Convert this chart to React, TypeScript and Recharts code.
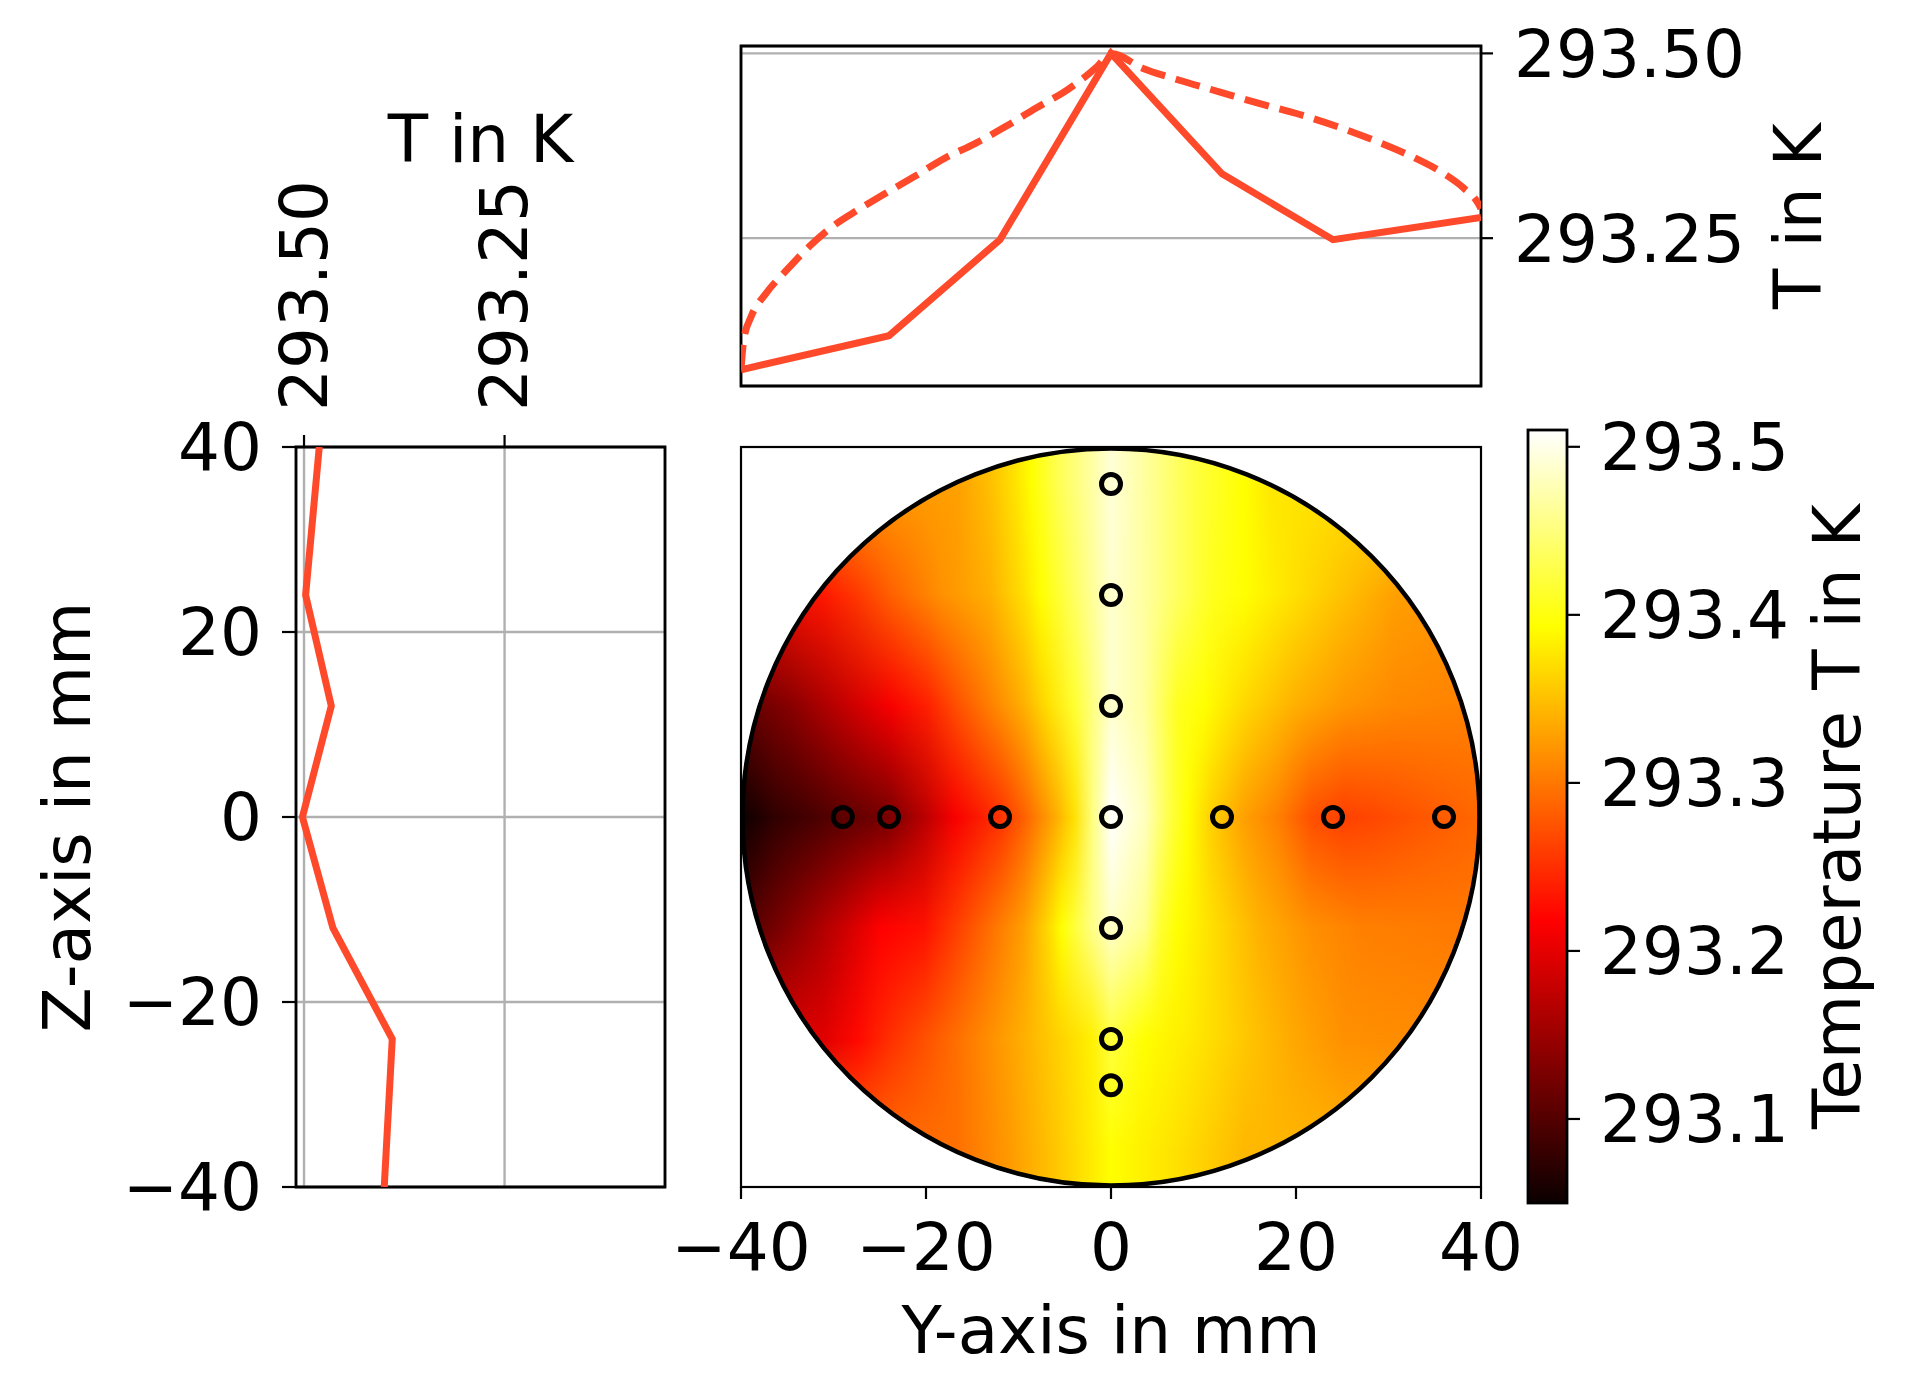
import React from "react";
import {
  ComposedChart,
  Line,
  Scatter,
  XAxis,
  YAxis,
  CartesianGrid,
  ReferenceArea,
  Label,
} from "recharts";

// ---- data ----

// shared temperature range (K) of the two profiles and the colour bar
const T_MIN = 293.05;
const T_MAX = 293.51;

// temperature profile along Y (Z = 0), measured points
const profileY = [-40, -24, -12, 0, 12, 24, 40];
const profileYT = [293.072, 293.118, 293.248, 293.5, 293.337, 293.248, 293.278];

// dashed fit along Y
const fitY = [
  -40, -39.7, -38.9, -37.25, -35.05, -32.6, -30.1, -27.4, -24.6, -21.3, -18, -14.7, -11.4, -8.1,
  -4.8, -1.5, 0, 3.4, 7.3, 11.7, 16.1, 20.5, 24.9, 28.7, 32.6, 35.9, 38.1, 39.7, 40,
];
const fitT = [
  293.072, 293.113, 293.144, 293.176, 293.207, 293.239, 293.266, 293.288, 293.309, 293.333,
  293.358, 293.378, 293.401, 293.426, 293.45, 293.482, 293.5, 293.48, 293.464, 293.448, 293.432,
  293.417, 293.399, 293.381, 293.36, 293.338, 293.318, 293.297, 293.29,
];

// temperature profile along Z (Y = 0)
const profileZ = [40, 24, 12, 0, -12, -24, -40];
const profileZT = [293.481, 293.498, 293.466, 293.502, 293.464, 293.39, 293.4];

// sensor positions on the cross-section (mm)
const sensorY = [0, 0, 0, 0, 0, 0, 0, -29, -24, -12, 12, 24, 36];
const sensorZ = [36, 24, 12, 0, -12, -24, -29, 0, 0, 0, 0, 0, 0];

const mmTicks = [-40, -20, 0, 20, 40];
const topYTicks = [-25, 0, 25];
const tempTicks = [293.25, 293.5];
const cbarTicks = [293.1, 293.2, 293.3, 293.4, 293.5];

const topProfile = profileY.map((y, i) => ({ y, t: profileYT[i] }));
const topFit = fitY.map((y, i) => ({ y, t: fitT[i] }));
const leftProfile = profileZ.map((z, i) => ({ z, t: profileZT[i] }));
const sensors = sensorY.map((y, i) => ({ y, z: sensorZ[i] }));
const cbarExtent = [
  { x: 0, t: T_MIN },
  { x: 1, t: T_MAX },
];

// ---- styling ----

const W = 1907;
const H = 1392;
const FONT = "'DejaVu Sans', Verdana, sans-serif";
const FS = 66;
const LINE = "#fe4a2a";
const LINE_W = 7;
const GRID = "#b0b0b0";
const GRID_W = 2.4;
const TICK_LINE = { stroke: "#000", strokeWidth: 2.2 };
const TICK_TEXT = { fontSize: FS, fill: "#000", fontFamily: FONT };

const TOP = { left: 741, right: 1481, top: 46, bottom: 386 };
const LEFT = { left: 296, right: 665, top: 447, bottom: 1187 };
const MAIN = { left: 741, right: 1481, top: 447, bottom: 1187 };
const CBAR = { left: 1528, right: 1567, top: 430, bottom: 1203 };

// colour of the interpolated field, one horizontal profile per Z row (Y in mm -> colour)
const HEAT_ROWS: { z: number; stops: [number, string][] }[] = [
  {
    z: 36,
    stops: [
      [-40, "#ff9000"], [-16.6, "#ffa000"], [-13, "#ffc000"], [-10, "#ffe800"], [-8.6, "#ffff00"],
      [-5.8, "#ffff50"], [-2.2, "#ffffa0"], [0, "#ffffd8"], [3.6, "#ffffa0"], [9, "#ffff40"],
      [14.4, "#ffff00"], [17.3, "#ffe800"], [40, "#ffd000"],
    ],
  },
  {
    z: 24,
    stops: [
      [-40, "#e00000"], [-31, "#ff1800"], [-27.4, "#ff3800"], [-23.8, "#ff6000"], [-18.4, "#ff9000"],
      [-13, "#ffb000"], [-9.4, "#ffe000"], [-7.6, "#ffff00"], [-4, "#ffff60"], [0, "#ffffd0"],
      [3.6, "#ffffa0"], [7.2, "#ffff60"], [10.8, "#ffff20"], [14.4, "#ffff00"], [19.8, "#ffe000"],
      [25.2, "#ffc000"], [30.6, "#ffa000"], [40, "#ff9000"],
    ],
  },
  {
    z: 12,
    stops: [
      [-40, "#580000"], [-38.9, "#680000"], [-34.6, "#880000"], [-29.2, "#c00000"], [-23.8, "#f80000"],
      [-19.8, "#ff2000"], [-16.6, "#ff5000"], [-13, "#ff8000"], [-9.4, "#ffb000"], [-6.8, "#ffe000"],
      [-4, "#ffff30"], [0, "#ffffd0"], [3.6, "#ffffa0"], [7.2, "#ffff20"], [10.1, "#ffff00"],
      [14.4, "#ffd800"], [19.8, "#ffb000"], [25.2, "#ff9500"], [30.6, "#ff8800"], [40, "#ff8000"],
    ],
  },
  {
    z: 0,
    stops: [
      [-40, "#0c0000"], [-36.4, "#300000"], [-32.8, "#440000"], [-29.2, "#5a0000"], [-24.1, "#780000"],
      [-20.2, "#b80000"], [-16.9, "#f80000"], [-11.9, "#ff3300"], [-9.4, "#ff6000"], [-5.8, "#ffb000"],
      [-4, "#ffe000"], [-2, "#ffff80"], [0, "#ffffff"], [3.6, "#ffffc0"], [6.5, "#ffff40"],
      [8.3, "#ffff00"], [10.8, "#ffd000"], [14.4, "#ffa000"], [18, "#ff8000"], [21.6, "#ff5000"],
      [25.2, "#ff4000"], [28.8, "#ff4800"], [34.2, "#ff5800"], [40, "#ff6800"],
    ],
  },
  {
    z: -12,
    stops: [
      [-40, "#480000"], [-38.9, "#580000"], [-34.6, "#880000"], [-29.2, "#c80000"], [-24.9, "#ff0000"],
      [-20.2, "#ff1000"], [-16.6, "#ff4000"], [-13, "#ff7000"], [-9.4, "#ffa000"], [-6.5, "#ffe000"],
      [-5.4, "#ffff00"], [-2.2, "#ffff80"], [0, "#ffffc8"], [3.6, "#ffff90"], [5.4, "#ffff30"],
      [7.2, "#ffff00"], [10.8, "#ffe000"], [16.2, "#ffb000"], [21.6, "#ff9000"], [27, "#ff8000"],
      [40, "#ff7800"],
    ],
  },
  {
    z: -24,
    stops: [
      [-40, "#d00000"], [-31, "#e00000"], [-27.4, "#ff0800"], [-23.8, "#ff3000"], [-18.4, "#ff6000"],
      [-13, "#ff9000"], [-9.4, "#ffb000"], [-5.8, "#ffd000"], [-2.2, "#fff000"], [0, "#ffff40"],
      [3.6, "#ffff00"], [9, "#ffe800"], [14.4, "#ffc800"], [19.8, "#ffa800"], [25.2, "#ff9000"],
      [40, "#ff8800"],
    ],
  },
  {
    z: -36,
    stops: [
      [-40, "#ff6000"], [-16.6, "#ff7000"], [-11.2, "#ff9800"], [-5.8, "#ffc800"], [0, "#ffff00"],
      [7.2, "#ffe000"], [14.4, "#ffb800"], [40, "#ffa800"],
    ],
  },
];

const fmtMinus = (v: number) => (v < 0 ? `\u2212${Math.abs(v)}` : `${v}`);

const RotatedTick = ({ x, y, payload }: any) => (
  <text
    x={x}
    y={y}
    transform={`rotate(-90 ${x} ${y})`}
    textAnchor="start"
    dominantBaseline="central"
    fontSize={FS}
    fontFamily={FONT}
    fill="#000"
  >
    {Number(payload.value).toFixed(2)}
  </text>
);

const VerticalTitle = ({ x, y, text }: { x: number; y: number; text: string }) => (
  <text
    x={x}
    y={y}
    transform={`rotate(-90 ${x} ${y})`}
    textAnchor="middle"
    dominantBaseline="central"
    fontSize={FS}
    fontFamily={FONT}
    fill="#000"
  >
    {text}
  </text>
);

// interpolated field inside the disk; rows blended vertically through masks
const HeatDisk = (props: any) => {
  const { x, y, width, height } = props;
  const cx = x + width / 2;
  const cy = y + height / 2;
  const r = width / 2;
  return (
    <g>
      <defs>
        <clipPath id="heatClip">
          <circle cx={cx} cy={cy} r={r} />
        </clipPath>
        {HEAT_ROWS.map((row, i) => (
          <linearGradient key={`row${i}`} id={`heatRow${i}`} x1="0" y1="0" x2="1" y2="0">
            {row.stops.map(([yy, c], j) => (
              <stop key={j} offset={(yy + 40) / 80} stopColor={c} />
            ))}
          </linearGradient>
        ))}
        {HEAT_ROWS.map((row, i) =>
          i === 0 ? null : (
            <linearGradient key={`fade${i}`} id={`heatFade${i}`} x1="0" y1="0" x2="0" y2="1">
              <stop offset={(40 - HEAT_ROWS[i - 1].z) / 80} stopColor="#fff" stopOpacity={0} />
              <stop offset={(40 - row.z) / 80} stopColor="#fff" stopOpacity={1} />
            </linearGradient>
          )
        )}
        {HEAT_ROWS.map((row, i) =>
          i === 0 ? null : (
            <mask key={`mask${i}`} id={`heatMask${i}`} maskUnits="userSpaceOnUse" x={x} y={y} width={width} height={height}>
              <rect x={x} y={y} width={width} height={height} fill={`url(#heatFade${i})`} />
            </mask>
          )
        )}
      </defs>
      <g clipPath="url(#heatClip)">
        {HEAT_ROWS.map((row, i) => (
          <rect
            key={i}
            x={x}
            y={y}
            width={width}
            height={height}
            fill={`url(#heatRow${i})`}
            mask={i === 0 ? undefined : `url(#heatMask${i})`}
          />
        ))}
      </g>
      <circle cx={cx} cy={cy} r={r - 1.5} fill="none" stroke="#000" strokeWidth={4.5} />
      <rect x={x} y={y} width={width} height={height} fill="none" stroke="#000" strokeWidth={2.2} />
    </g>
  );
};

const SensorRing = ({ cx, cy }: any) => (
  <circle cx={cx} cy={cy} r={9.5} fill="none" stroke="#000" strokeWidth={5} />
);

const ColorBar = ({ x, y, width, height }: any) => (
  <g>
    <defs>
      <linearGradient id="hotGrad" x1="0" y1="1" x2="0" y2="0">
        <stop offset={0} stopColor="#0b0000" />
        <stop offset={0.365} stopColor="#ff0000" />
        <stop offset={0.746} stopColor="#ffff00" />
        <stop offset={1} stopColor="#ffffff" />
      </linearGradient>
    </defs>
    <rect x={x} y={y} width={width} height={height} fill="url(#hotGrad)" stroke="#000" strokeWidth={2.8} />
  </g>
);

const layer: React.CSSProperties = { position: "absolute", left: 0, top: 0 };

export default function App() {
  return (
    <div style={{ position: "absolute", left: 0, top: 0, width: W, height: H, background: "#fff" }}>
      {/* top: T along Y */}
      <div style={layer}>
        <ComposedChart
          width={W}
          height={H}
          margin={{ top: TOP.top, left: TOP.left, right: W - TOP.right - 320, bottom: H - TOP.bottom - 20 }}
        >
          <CartesianGrid stroke={GRID} strokeWidth={GRID_W} />
          <XAxis
            type="number"
            dataKey="y"
            domain={[-40, 40]}
            ticks={topYTicks}
            allowDataOverflow
            height={20}
            tick={false}
            tickSize={12}
            axisLine={false}
            tickLine={TICK_LINE}
          />
          <YAxis
            type="number"
            orientation="right"
            domain={[T_MIN, T_MAX]}
            ticks={tempTicks}
            allowDataOverflow
            width={320}
            tickSize={12}
            tickMargin={21}
            axisLine={false}
            tickLine={TICK_LINE}
            tick={TICK_TEXT}
            tickFormatter={(v: number) => v.toFixed(2)}
          >
            <Label content={() => <VerticalTitle x={1798} y={(TOP.top + TOP.bottom) / 2} text="T in K" />} />
          </YAxis>
          <Line
            data={topFit}
            dataKey="t"
            type="monotone"
            stroke={LINE}
            strokeWidth={LINE_W}
            strokeDasharray="25 11"
            dot={false}
            activeDot={false}
            isAnimationActive={false}
          />
          <Line
            data={topProfile}
            dataKey="t"
            type="linear"
            stroke={LINE}
            strokeWidth={LINE_W}
            dot={false}
            activeDot={false}
            isAnimationActive={false}
          />
          <ReferenceArea x1={-40} x2={40} y1={T_MIN} y2={T_MAX} fill="none" stroke="#000" strokeWidth={2.8} />
        </ComposedChart>
      </div>

      {/* left: T along Z */}
      <div style={layer}>
        <ComposedChart
          layout="vertical"
          width={W}
          height={H}
          data={leftProfile}
          margin={{ top: LEFT.top - 300, left: LEFT.left - 240, right: W - LEFT.right, bottom: H - LEFT.bottom }}
        >
          <CartesianGrid stroke={GRID} strokeWidth={GRID_W} />
          <XAxis
            type="number"
            orientation="top"
            domain={[T_MIN, T_MAX]}
            reversed
            ticks={tempTicks}
            allowDataOverflow
            height={300}
            tickSize={12}
            tickMargin={24}
            axisLine={false}
            tickLine={TICK_LINE}
            tick={(p: any) => <RotatedTick {...p} />}
          >
            <Label
              content={() => (
                <text
                  x={(LEFT.left + LEFT.right) / 2}
                  y={162}
                  textAnchor="middle"
                  fontSize={FS}
                  fontFamily={FONT}
                  fill="#000"
                >
                  T in K
                </text>
              )}
            />
          </XAxis>
          <YAxis
            type="number"
            dataKey="z"
            domain={[-40, 40]}
            reversed
            ticks={mmTicks}
            allowDataOverflow
            width={240}
            tickSize={14}
            tickMargin={20}
            axisLine={false}
            tickLine={TICK_LINE}
            tick={TICK_TEXT}
            tickFormatter={fmtMinus}
          >
            <Label content={() => <VerticalTitle x={67} y={(LEFT.top + LEFT.bottom) / 2} text="Z-axis in mm" />} />
          </YAxis>
          <Line
            dataKey="t"
            type="linear"
            stroke={LINE}
            strokeWidth={LINE_W}
            dot={false}
            activeDot={false}
            isAnimationActive={false}
          />
          <ReferenceArea x1={T_MIN} x2={T_MAX} y1={-40} y2={40} fill="none" stroke="#000" strokeWidth={2.8} />
        </ComposedChart>
      </div>

      {/* main: temperature field on the cross-section */}
      <div style={layer}>
        <ComposedChart
          width={W}
          height={H}
          margin={{ top: MAIN.top, left: MAIN.left, right: W - MAIN.right, bottom: H - MAIN.bottom - 150 }}
        >
          <XAxis
            type="number"
            dataKey="y"
            domain={[-40, 40]}
            ticks={mmTicks}
            allowDataOverflow
            height={150}
            tickSize={12}
            tickMargin={24}
            axisLine={false}
            tickLine={TICK_LINE}
            tick={TICK_TEXT}
            tickFormatter={fmtMinus}
          >
            <Label
              content={() => (
                <text
                  x={(MAIN.left + MAIN.right) / 2}
                  y={MAIN.bottom + 166}
                  textAnchor="middle"
                  fontSize={FS}
                  fontFamily={FONT}
                  fill="#000"
                >
                  Y-axis in mm
                </text>
              )}
            />
          </XAxis>
          <YAxis type="number" dataKey="z" domain={[-40, 40]} allowDataOverflow hide />
          <ReferenceArea x1={-40} x2={40} y1={-40} y2={40} shape={(p: any) => <HeatDisk {...p} />} />
          <Scatter data={sensors} shape={(p: any) => <SensorRing {...p} />} isAnimationActive={false} />
        </ComposedChart>
      </div>

      {/* colour bar */}
      <div style={layer}>
        <ComposedChart
          width={W}
          height={H}
          data={cbarExtent}
          margin={{ top: CBAR.top, left: CBAR.left, right: W - CBAR.right - 300, bottom: H - CBAR.bottom }}
        >
          <XAxis type="number" dataKey="x" domain={[0, 1]} allowDataOverflow hide />
          <YAxis
            type="number"
            orientation="right"
            domain={[T_MIN, T_MAX]}
            ticks={cbarTicks}
            allowDataOverflow
            width={300}
            tickSize={13}
            tickMargin={20}
            axisLine={false}
            tickLine={TICK_LINE}
            tick={TICK_TEXT}
            tickFormatter={(v: number) => v.toFixed(1)}
          >
            <Label
              content={() => <VerticalTitle x={1837} y={(CBAR.top + CBAR.bottom) / 2} text="Temperature T in K" />}
            />
          </YAxis>
          <ReferenceArea x1={0} x2={1} y1={T_MIN} y2={T_MAX} shape={(p: any) => <ColorBar {...p} />} />
        </ComposedChart>
      </div>
    </div>
  );
}
